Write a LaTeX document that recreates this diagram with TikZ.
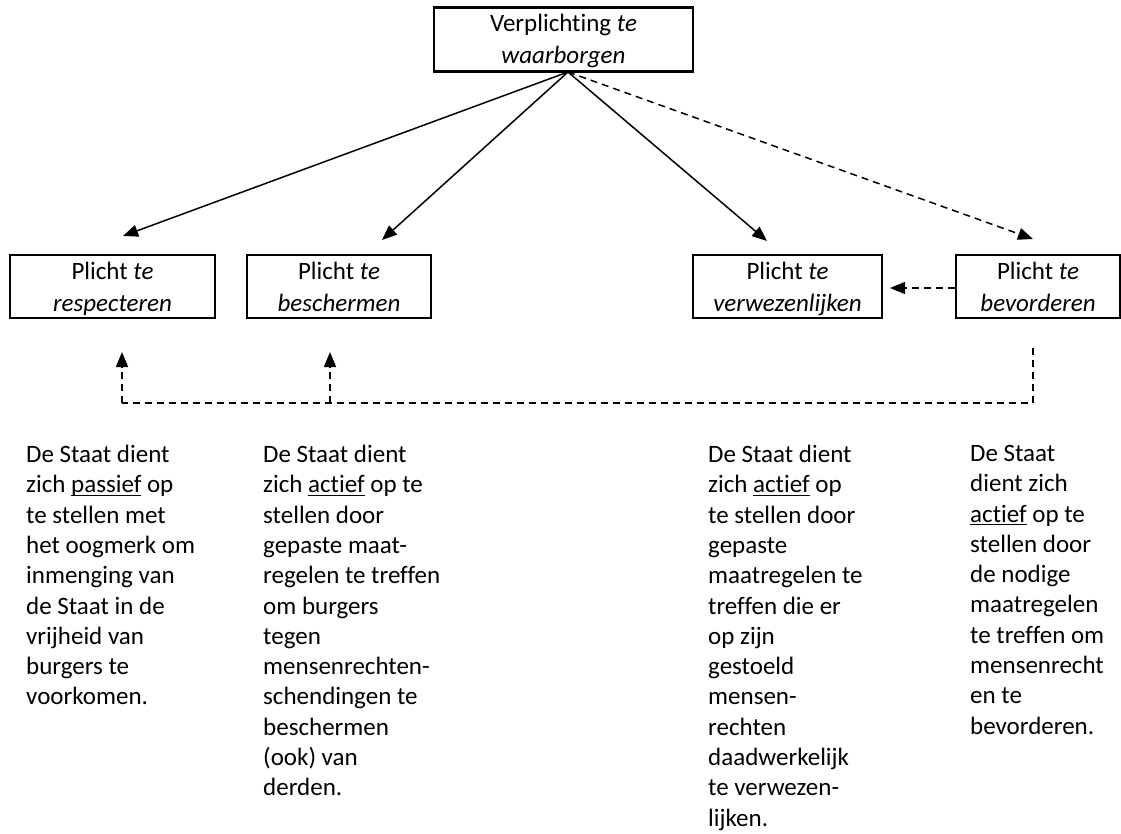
\documentclass[tikz,border=0pt]{standalone}
\usepackage{fontspec}
\setmainfont[Ligatures=NoCommon]{Carlito}
\usetikzlibrary{arrows.meta}
\newcommand\myul[1]{{\setbox0\hbox{#1}\rlap{\rule[-3.3pt]{\wd0}{1.4pt}}\box0}}
\newcommand\lnstrut{\rule[-7pt]{0pt}{31pt}}
\begin{document}
\begin{tikzpicture}[x=1pt,y=-1pt,
  every node/.style={font=\fontsize{25}{30.3}\selectfont, inner sep=0pt},
  dutybox/.style={draw, line width=2.2pt, align=center},
  conn/.style={line width=1.5pt, -{Triangle[length=15pt,width=12pt]}},
  dconn/.style={conn, dash pattern=on 7pt off 5pt},
  dline/.style={line width=1.5pt, dash pattern=on 7pt off 5pt},
  coltext/.style={anchor=north west, align=left}]
\useasboundingbox (0,0) rectangle (1121,834);

\node[dutybox, minimum width=259pt, minimum height=64pt] (top) at (563.5,39.5) {\lnstrut Verplichting \textit{te}\\\lnstrut\textit{waarborgen}};

\node[dutybox, minimum width=205pt, minimum height=63pt] (b1) at (112.5,286.5) {\lnstrut Plicht \textit{te}\\\lnstrut\textit{respecteren}};
\node[dutybox, minimum width=184pt, minimum height=63pt] (b2) at (339,286.5) {\lnstrut Plicht \textit{te}\\\lnstrut\textit{beschermen}};
\node[dutybox, minimum width=189pt, minimum height=63pt] (b3) at (787.5,286.5) {\lnstrut Plicht \textit{te}\\\lnstrut\textit{verwezenlijken}};
\node[dutybox, minimum width=164pt, minimum height=63pt] (b4) at (1038,286.5) {\lnstrut Plicht \textit{te}\\\lnstrut\textit{bevorderen}};

\coordinate (o) at (568,72);
\coordinate (t1) at (123,236);
\coordinate (t2) at (382,240);
\coordinate (t3) at (767,241);
\coordinate (t4) at (1033,239);
\draw[conn] (o) -- (t1);
\draw[conn] (o) -- (t2);
\draw[conn] (o) -- (t3);
\draw[dconn] (o) -- (t4);

\coordinate (h3) at (890,288);
\draw[dconn] (b4.west |- h3) -- (h3);

\coordinate (s4) at (1033,348);
\coordinate (c4) at (1033,403);
\coordinate (c1) at (122,403);
\coordinate (c2) at (330,403);
\coordinate (u1) at (122,352);
\coordinate (u2) at (330,352);
\draw[dline] (s4) -- (c4) -- (c1);
\draw[dconn] (c1) -- (u1);
\draw[dconn] (c2) -- (u2);

\node[coltext] (d1) at (26,445) {De Staat dient\\zich \myul{passief} op\\te stellen met\\het oogmerk om\\inmenging van\\de Staat in de\\vrijheid van\\burgers te\\voorkomen.};
\node[coltext] (d2) at (263,445) {De Staat dient\\zich \myul{actief} op te\\stellen door\\gepaste maat-\\regelen te treffen\\om burgers\\tegen\\mensenrechten-\\schendingen te\\beschermen\\(ook) van\\derden.};
\node[coltext] (d3) at (708,445) {De Staat dient\\zich \myul{actief} op\\te stellen door\\gepaste\\maatregelen te\\treffen die er\\op zijn\\gestoeld\\mensen-\\rechten\\daadwerkelijk\\te verwezen-\\lijken.};
\node[coltext] (d4) at (970,445) {De Staat\\dient zich\\\myul{actief} op te\\stellen door\\de nodige\\maatregelen\\te treffen om\\mensenrecht\\en te\\bevorderen.};
\end{tikzpicture}
\end{document}
